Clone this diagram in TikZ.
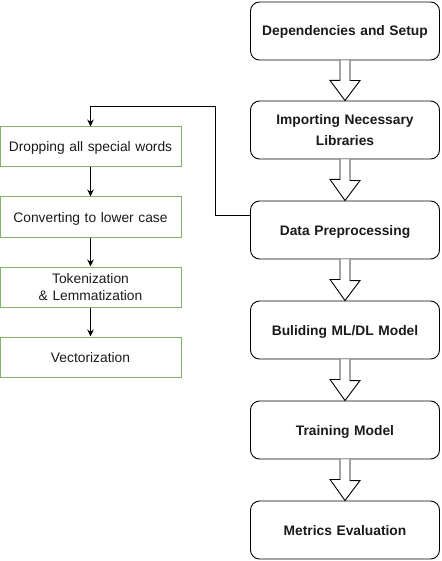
\documentclass[tikz,border=0pt]{standalone}
\usepackage{fontspec}
\setmainfont{Liberation Sans}
\usetikzlibrary{arrows.meta,calc}
\definecolor{dgreen}{HTML}{82B366}
\definecolor{txt}{HTML}{1A1A1A}
\tikzset{
  mainbox/.style={draw=black, line width=0.9pt, rounded corners=9pt, minimum width=189pt, minimum height=58pt, inner sep=2pt, align=center, text width=185pt, font=\bfseries\fontsize{13.8}{21.5}\selectfont, text=txt},
  subbox/.style={draw=dgreen, line width=1pt, minimum width=179pt, minimum height=40pt, inner sep=2pt, align=center, text width=177pt, font=\fontsize{13.8}{16.7}\selectfont, text=txt},
  oneline/.style={text depth=0pt},
  conn/.style={line width=0.9pt, -{Stealth[length=7pt,width=6.5pt]}},
  blockarrow/.style={draw=black, line width=0.9pt, fill=white, line join=miter}
}
\begin{document}
\begin{tikzpicture}[x=1pt,y=-1pt]
\useasboundingbox (0,0) rectangle (441,561);
\node[mainbox,oneline] (b1) at (345,31) {Dependencies and Setup};
\node[mainbox] (b2) at (345,130) {Importing Necessary\\Libraries};
\node[mainbox,oneline] (b3) at (345,230) {Data Preprocessing};
\node[mainbox,oneline] (b4) at (345,330) {Buliding ML/DL Model};
\node[mainbox,oneline] (b5) at (345,430) {Training Model};
\node[mainbox,oneline] (b6) at (345,530) {Metrics Evaluation};

\node[subbox,oneline] (s1) at (90.5,147) {Dropping all special words};
\node[subbox,oneline] (s2) at (90.5,217) {Converting to lower case};
\node[subbox] (s3) at (90.5,287) {Tokenization\\\&~Lemmatization};
\node[subbox,oneline] (s4) at (90.5,357) {Vectorization};

\foreach \a/\b in {b1/b2,b2/b3,b3/b4,b4/b5,b5/b6}{
  \draw[blockarrow] ($(\a.south)+(-5,0)$) -- ++(0,20) -- ++(-10,0) -- (\b.north) -- ($(\b.north)+(15,-20)$) -- ++(-10,0) -- ($(\a.south)+(5,0)$);
}

\coordinate (c1) at ($(b3.west)+(-35,-14.5)$);
\draw[conn] ($(b3.west)+(0,-14.5)$) -- (c1) |- ($(s1.north)+(0,-20)$) -- (s1.north);
\draw[conn] (s1) -- (s2);
\draw[conn] (s2) -- (s3);
\draw[conn] (s3) -- (s4);
\end{tikzpicture}
\end{document}
